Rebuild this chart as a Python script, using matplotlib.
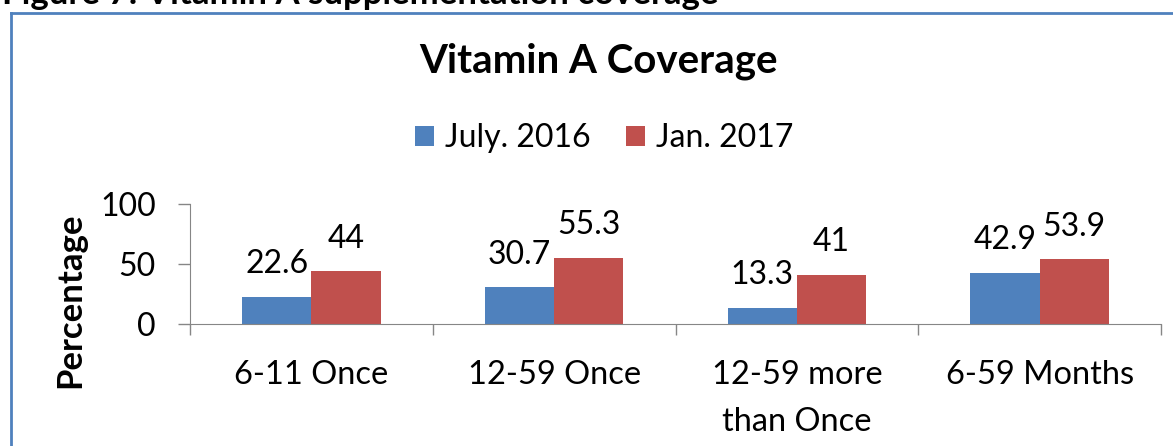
import matplotlib
matplotlib.use("Agg")
import matplotlib.pyplot as plt
import numpy as np
from matplotlib.lines import Line2D

categories = ["6-11 Once", "12-59 Once", "12-59 more\nthan Once", "6-59 Months"]
july_2016 = [22.6, 30.7, 13.3, 42.9]
jan_2017 = [44, 55.3, 41, 53.9]
series_names = ["July. 2016", "Jan. 2017"]
yticks = [0, 50, 100]

BLUE = "#4F81BD"
RED = "#C0504D"
AXC = "#868686"
FONT = "Lato"

W, H = 1173, 446
fig = plt.figure(figsize=(W / 100, H / 100), dpi=100)
plt.rcParams['font.family'] = [FONT, 'DejaVu Sans']

# outer chart border (left + top visible)
fig.add_artist(Line2D([11 / W, 11 / W], [0, 1 - 13 / H], transform=fig.transFigure, color=BLUE, lw=2))
fig.add_artist(Line2D([11 / W, 1], [1 - 13 / H, 1 - 13 / H], transform=fig.transFigure, color=BLUE, lw=2))

# cut-off figure caption (as in the reference)
fig.text(2 / W, 1 - 4 / H, "Figure 7: Vitamin A supplementation coverage", fontsize=25,
         fontweight="bold", ha="left", va="baseline")

ax = fig.add_axes([190 / W, 122 / H, (1161 - 190) / W, (324 - 204) / H])
n = len(categories)
x = np.arange(n)
bw = 0.285
b1 = ax.bar(x - bw / 2, july_2016, bw, color=BLUE, label=series_names[0], zorder=2)
b2 = ax.bar(x + bw / 2, jan_2017, bw, color=RED, label=series_names[1], zorder=2)

for bars, vals in ((b1, july_2016), (b2, jan_2017)):
    for r, v in zip(bars, vals):
        ax.annotate(f"{v:g}", (r.get_x() + r.get_width() / 2, v), xytext=(0, 17),
                    textcoords="offset points", ha="center", va="baseline", fontsize=23)

ax.set_xlim(-0.5, n - 0.5)
ax.set_ylim(0, 100)
ax.set_yticks(yticks)
ax.set_yticklabels([str(t) for t in yticks], fontsize=23)
ax.tick_params(axis="y", direction="out", length=8.6, width=1, color=AXC, pad=16)
ax.set_xticks(np.arange(n + 1) - 0.5)
ax.set_xticklabels([])
ax.tick_params(axis="x", direction="out", length=8, width=1, color=AXC)
for i, c in enumerate(categories):
    ax.annotate(c, (i, 0), xytext=(0, -(360 - 324) * 0.72), textcoords="offset points",
                ha="center", va="top", fontsize=23.5, linespacing=1.72)
for s in ["top", "right"]:
    ax.spines[s].set_visible(False)
ax.spines["left"].set_color(AXC)
ax.spines["bottom"].set_color(AXC)

fig.text(70 / W, 1 - 300 / H, "Percentage", rotation=90, fontsize=25, fontweight="bold",
         ha="center", va="center")

fig.text(598 / W, 1 - 61 / H, "Vitamin A Coverage", fontsize=29, fontweight="bold",
         ha="center", va="center")

fig.legend(handles=[b1, b2], labels=series_names, loc="center", bbox_to_anchor=(604 / W, 1 - 138 / H),
           ncol=2, frameon=False, fontsize=23, handlelength=0.6, handleheight=0.6,
           handletextpad=0.35, columnspacing=1.1)

fig.savefig("out.png", dpi=100)
